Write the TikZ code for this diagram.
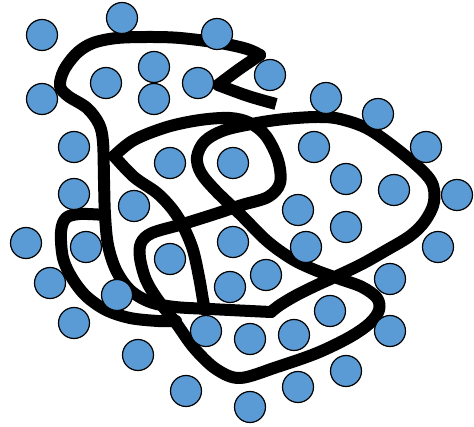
\documentclass[tikz,border=0pt]{standalone}
\definecolor{dotblue}{HTML}{5B9BD5}
\tikzset{
  dot/.style={circle, draw=black, line width=1.2pt, fill=dotblue, minimum size=31pt, inner sep=0pt},
  scribble/.style={line width=12pt, line cap=round, line join=round},
  sm/.style={smooth, tension=0.55}
}
\begin{document}
\begin{tikzpicture}[x=1pt,y=-1pt]
\useasboundingbox (0,0) rectangle (474,427);
% scribble
\draw[scribble, line cap=butt] plot[sm] coordinates {(276,104) (248,96) (218,85)};
\draw[scribble] plot[sm] coordinates {(218,85) (238,70) (260,55)};
\draw[scribble] plot[sm] coordinates {(260,55) (247,49) (220,43) (180,38) (150,37) (117,38) (93,43) (77,53) (64,70) (60,86) (68,96) (87,108) (99,124) (103,142) (104,180) (105,215) (108,245) (116,270) (130,290) (150,302) (175,307) (210,309) (250,311) (271,312)};
\draw[scribble] plot[sm] coordinates {(271,312) (280,305) (295,296) (315,286) (337,276) (362,264) (385,251) (410,236) (425,221) (434,202) (431,181) (408,158) (370,130) (340,119) (317,117) (285,119) (257,123) (225,130) (205,141) (197,157) (201,173) (216,191) (240,214) (267,241) (292,259) (315,270) (340,279) (362,287) (377,298) (379,310) (370,323) (350,337) (317,353) (277,367) (240,378) (216,369) (194,348) (176,323) (158,300) (146,280) (140,258) (141,243) (152,233) (183,224) (215,214) (242,205) (268,197) (280,183) (278,160) (266,136) (250,123) (230,118) (200,120) (167,127) (134,140) (114,156)};
\draw[scribble] plot[sm] coordinates {(114,156) (134,177) (157,193) (173,210) (184,228) (193,250) (199,277) (203,300) (205,310)};
\draw[scribble] plot[sm] coordinates {(105,215) (80,214) (66,218) (61,232) (63,258) (72,278) (86,296) (106,310) (130,318) (158,321) (176,321)};
% dots
\node[dot] (c1) at (42,35) {};
\node[dot] (c2) at (122,18) {};
\node[dot] (c3) at (217,34) {};
\node[dot] (c4) at (42,99) {};
\node[dot] (c5) at (106,83) {};
\node[dot] (c6) at (154,67) {};
\node[dot] (c7) at (154,99) {};
\node[dot] (c8) at (198,83) {};
\node[dot] (c9) at (270,75) {};
\node[dot] (c10) at (326,98) {};
\node[dot] (c11) at (378,114) {};
\node[dot] (c12) at (74,147) {};
\node[dot] (c13) at (170,163) {};
\node[dot] (c14) at (233,163) {};
\node[dot] (c15) at (314,147) {};
\node[dot] (c16) at (426,147) {};
\node[dot] (c17) at (346,179) {};
\node[dot] (c18) at (394,190) {};
\node[dot] (c19) at (457,195) {};
\node[dot] (c20) at (74,194) {};
\node[dot] (c21) at (134,206) {};
\node[dot] (c22) at (298,210) {};
\node[dot] (c23) at (346,227) {};
\node[dot] (c24) at (26,243) {};
\node[dot] (c25) at (86,247) {};
\node[dot] (c26) at (170,259) {};
\node[dot] (c27) at (233,242) {};
\node[dot] (c28) at (306,247) {};
\node[dot] (c29) at (438,247) {};
\node[dot] (c30) at (50,283) {};
\node[dot] (c31) at (266,275) {};
\node[dot] (c32) at (230,287) {};
\node[dot] (c33) at (390,279) {};
\node[dot] (c34) at (117,295) {};
\node[dot] (c35) at (74,323) {};
\node[dot] (c36) at (330,311) {};
\node[dot] (c37) at (206,331) {};
\node[dot] (c38) at (250,339) {};
\node[dot] (c39) at (294,335) {};
\node[dot] (c40) at (390,331) {};
\node[dot] (c41) at (138,355) {};
\node[dot] (c42) at (346,371) {};
\node[dot] (c43) at (186,391) {};
\node[dot] (c44) at (298,387) {};
\node[dot] (c45) at (250,407) {};
\end{tikzpicture}
\end{document}
